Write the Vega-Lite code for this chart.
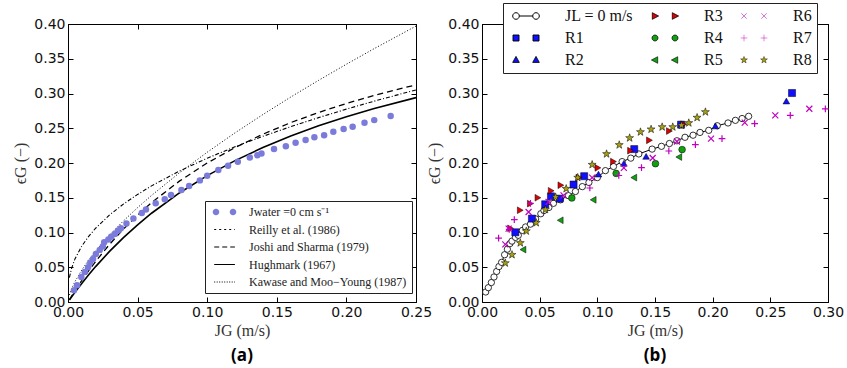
{
  "$schema": "https://vega.github.io/schema/vega-lite/v6.json",
  "padding": {"left": 12, "top": 2, "right": 5, "bottom": 5},
  "background": "white",
  "config": {
    "view": {"stroke": "black", "strokeWidth": 1},
    "axis": {
      "labelFont": "DejaVu Sans", "labelFontSize": 14, "labelColor": "#111",
      "titleFont": "Liberation Serif", "titleFontSize": 16, "titleFontWeight": "normal", "titleColor": "#333",
      "grid": false, "domainColor": "black", "tickColor": "black", "tickSize": -5, "labelPadding": 8,
      "labelFlush": false, "labelOverlap": false
    }
  },
  "resolve": {"scale": {"color": "independent", "fill": "independent", "stroke": "independent", "shape": "independent", "strokeWidth": "independent", "strokeDash": "independent"}},
  "datasets": {
    "leftPts": [
      {"x":0.0043,"y":0.0168},{"x":0.0065,"y":0.024},{"x":0.0096,"y":0.036},{"x":0.012,"y":0.043},{"x":0.0144,"y":0.050},
      {"x":0.016,"y":0.057},{"x":0.018,"y":0.062},{"x":0.020,"y":0.069},{"x":0.0228,"y":0.075},{"x":0.025,"y":0.080},
      {"x":0.026,"y":0.086},{"x":0.029,"y":0.090},{"x":0.031,"y":0.094},{"x":0.0336,"y":0.098},{"x":0.036,"y":0.103},
      {"x":0.038,"y":0.106},{"x":0.042,"y":0.113},{"x":0.047,"y":0.120},{"x":0.053,"y":0.128},{"x":0.056,"y":0.133},
      {"x":0.063,"y":0.142},{"x":0.0695,"y":0.148},{"x":0.074,"y":0.154},{"x":0.0815,"y":0.161},{"x":0.087,"y":0.167},
      {"x":0.0947,"y":0.175},{"x":0.100,"y":0.1815},{"x":0.108,"y":0.190},{"x":0.115,"y":0.196},{"x":0.122,"y":0.2017},
      {"x":0.1306,"y":0.208},{"x":0.136,"y":0.211},{"x":0.139,"y":0.2137},{"x":0.148,"y":0.220},{"x":0.1565,"y":0.224},
      {"x":0.1635,"y":0.229},{"x":0.1707,"y":0.233},{"x":0.177,"y":0.237},{"x":0.184,"y":0.240},{"x":0.1906,"y":0.245},
      {"x":0.198,"y":0.249},{"x":0.2045,"y":0.252},{"x":0.213,"y":0.258},{"x":0.220,"y":0.2617},{"x":0.2318,"y":0.2675}
    ],
    "curves": [
      {"m":"Reilly et al. (1986)","x":0.001,"y":0.0351},{"m":"Reilly et al. (1986)","x":0.0025,"y":0.0480},{"m":"Reilly et al. (1986)","x":0.005,"y":0.0620},{"m":"Reilly et al. (1986)","x":0.01,"y":0.0808},{"m":"Reilly et al. (1986)","x":0.015,"y":0.0949},{"m":"Reilly et al. (1986)","x":0.02,"y":0.1065},{"m":"Reilly et al. (1986)","x":0.03,"y":0.1255},{"m":"Reilly et al. (1986)","x":0.04,"y":0.1412},{"m":"Reilly et al. (1986)","x":0.05,"y":0.1548},{"m":"Reilly et al. (1986)","x":0.06,"y":0.1671},{"m":"Reilly et al. (1986)","x":0.08,"y":0.1884},{"m":"Reilly et al. (1986)","x":0.10,"y":0.2069},{"m":"Reilly et al. (1986)","x":0.12,"y":0.2234},{"m":"Reilly et al. (1986)","x":0.14,"y":0.2384},{"m":"Reilly et al. (1986)","x":0.16,"y":0.2523},{"m":"Reilly et al. (1986)","x":0.18,"y":0.2653},{"m":"Reilly et al. (1986)","x":0.20,"y":0.2775},{"m":"Reilly et al. (1986)","x":0.22,"y":0.2890},{"m":"Reilly et al. (1986)","x":0.25,"y":0.3052},
      {"m":"Joshi and Sharma (1979)","x":0.001,"y":0.0033},{"m":"Joshi and Sharma (1979)","x":0.0025,"y":0.0082},{"m":"Joshi and Sharma (1979)","x":0.005,"y":0.0161},{"m":"Joshi and Sharma (1979)","x":0.01,"y":0.0313},{"m":"Joshi and Sharma (1979)","x":0.015,"y":0.0455},{"m":"Joshi and Sharma (1979)","x":0.02,"y":0.0588},{"m":"Joshi and Sharma (1979)","x":0.03,"y":0.0833},{"m":"Joshi and Sharma (1979)","x":0.04,"y":0.1053},{"m":"Joshi and Sharma (1979)","x":0.05,"y":0.125},{"m":"Joshi and Sharma (1979)","x":0.06,"y":0.1429},{"m":"Joshi and Sharma (1979)","x":0.08,"y":0.1739},{"m":"Joshi and Sharma (1979)","x":0.10,"y":0.2},{"m":"Joshi and Sharma (1979)","x":0.12,"y":0.2222},{"m":"Joshi and Sharma (1979)","x":0.14,"y":0.2414},{"m":"Joshi and Sharma (1979)","x":0.16,"y":0.2581},{"m":"Joshi and Sharma (1979)","x":0.18,"y":0.2727},{"m":"Joshi and Sharma (1979)","x":0.20,"y":0.2857},{"m":"Joshi and Sharma (1979)","x":0.22,"y":0.2973},{"m":"Joshi and Sharma (1979)","x":0.25,"y":0.3125},
      {"m":"Hughmark (1967)","x":0.001,"y":0.0028},{"m":"Hughmark (1967)","x":0.0025,"y":0.0070},{"m":"Hughmark (1967)","x":0.005,"y":0.0139},{"m":"Hughmark (1967)","x":0.01,"y":0.0270},{"m":"Hughmark (1967)","x":0.015,"y":0.0395},{"m":"Hughmark (1967)","x":0.02,"y":0.0513},{"m":"Hughmark (1967)","x":0.03,"y":0.0732},{"m":"Hughmark (1967)","x":0.04,"y":0.0930},{"m":"Hughmark (1967)","x":0.05,"y":0.1111},{"m":"Hughmark (1967)","x":0.06,"y":0.1277},{"m":"Hughmark (1967)","x":0.08,"y":0.1569},{"m":"Hughmark (1967)","x":0.10,"y":0.1818},{"m":"Hughmark (1967)","x":0.12,"y":0.2034},{"m":"Hughmark (1967)","x":0.14,"y":0.2222},{"m":"Hughmark (1967)","x":0.16,"y":0.2388},{"m":"Hughmark (1967)","x":0.18,"y":0.2535},{"m":"Hughmark (1967)","x":0.20,"y":0.2667},{"m":"Hughmark (1967)","x":0.22,"y":0.2785},{"m":"Hughmark (1967)","x":0.25,"y":0.2941},
      {"m":"Kawase and Moo−Young (1987)","x":0.001,"y":0.0100},{"m":"Kawase and Moo−Young (1987)","x":0.0025,"y":0.0184},{"m":"Kawase and Moo−Young (1987)","x":0.005,"y":0.0293},{"m":"Kawase and Moo−Young (1987)","x":0.01,"y":0.0464},{"m":"Kawase and Moo−Young (1987)","x":0.015,"y":0.0608},{"m":"Kawase and Moo−Young (1987)","x":0.02,"y":0.0737},{"m":"Kawase and Moo−Young (1987)","x":0.03,"y":0.0966},{"m":"Kawase and Moo−Young (1987)","x":0.04,"y":0.1170},{"m":"Kawase and Moo−Young (1987)","x":0.05,"y":0.1358},{"m":"Kawase and Moo−Young (1987)","x":0.06,"y":0.1533},{"m":"Kawase and Moo−Young (1987)","x":0.08,"y":0.1858},{"m":"Kawase and Moo−Young (1987)","x":0.10,"y":0.2155},{"m":"Kawase and Moo−Young (1987)","x":0.12,"y":0.2434},{"m":"Kawase and Moo−Young (1987)","x":0.14,"y":0.2697},{"m":"Kawase and Moo−Young (1987)","x":0.16,"y":0.2949},{"m":"Kawase and Moo−Young (1987)","x":0.18,"y":0.3189},{"m":"Kawase and Moo−Young (1987)","x":0.20,"y":0.3421},{"m":"Kawase and Moo−Young (1987)","x":0.22,"y":0.3646},{"m":"Kawase and Moo−Young (1987)","x":0.25,"y":0.397}
    ],
    "right": [
      {"s":"JL = 0 m/s","x":0.0032,"y":0.0144},{"s":"JL = 0 m/s","x":0.0055,"y":0.0206},{"s":"JL = 0 m/s","x":0.0081,"y":0.028},{"s":"JL = 0 m/s","x":0.0104,"y":0.036},{"s":"JL = 0 m/s","x":0.0127,"y":0.044},{"s":"JL = 0 m/s","x":0.0147,"y":0.051},{"s":"JL = 0 m/s","x":0.017,"y":0.057},{"s":"JL = 0 m/s","x":0.0196,"y":0.068},{"s":"JL = 0 m/s","x":0.022,"y":0.076},{"s":"JL = 0 m/s","x":0.0242,"y":0.084},{"s":"JL = 0 m/s","x":0.026,"y":0.0876},{"s":"JL = 0 m/s","x":0.029,"y":0.093},{"s":"JL = 0 m/s","x":0.0315,"y":0.096},{"s":"JL = 0 m/s","x":0.035,"y":0.103},{"s":"JL = 0 m/s","x":0.0378,"y":0.108},{"s":"JL = 0 m/s","x":0.042,"y":0.112},{"s":"JL = 0 m/s","x":0.0465,"y":0.1196},{"s":"JL = 0 m/s","x":0.051,"y":0.127},{"s":"JL = 0 m/s","x":0.0537,"y":0.1316},{"s":"JL = 0 m/s","x":0.058,"y":0.136},{"s":"JL = 0 m/s","x":0.062,"y":0.142},{"s":"JL = 0 m/s","x":0.068,"y":0.147},{"s":"JL = 0 m/s","x":0.075,"y":0.153},{"s":"JL = 0 m/s","x":0.081,"y":0.159},{"s":"JL = 0 m/s","x":0.087,"y":0.166},{"s":"JL = 0 m/s","x":0.0927,"y":0.172},{"s":"JL = 0 m/s","x":0.100,"y":0.179},{"s":"JL = 0 m/s","x":0.107,"y":0.189},{"s":"JL = 0 m/s","x":0.114,"y":0.195},{"s":"JL = 0 m/s","x":0.1215,"y":0.202},{"s":"JL = 0 m/s","x":0.129,"y":0.207},{"s":"JL = 0 m/s","x":0.136,"y":0.213},{"s":"JL = 0 m/s","x":0.1475,"y":0.220},{"s":"JL = 0 m/s","x":0.1556,"y":0.224},{"s":"JL = 0 m/s","x":0.1625,"y":0.228},{"s":"JL = 0 m/s","x":0.169,"y":0.232},{"s":"JL = 0 m/s","x":0.176,"y":0.237},{"s":"JL = 0 m/s","x":0.183,"y":0.240},{"s":"JL = 0 m/s","x":0.189,"y":0.244},{"s":"JL = 0 m/s","x":0.1966,"y":0.247},{"s":"JL = 0 m/s","x":0.204,"y":0.2536},{"s":"JL = 0 m/s","x":0.2133,"y":0.2576},{"s":"JL = 0 m/s","x":0.2197,"y":0.2614},{"s":"JL = 0 m/s","x":0.2255,"y":0.264},{"s":"JL = 0 m/s","x":0.2312,"y":0.2672},
      {"s":"R1","x":0.0289,"y":0.1003},{"s":"R1","x":0.0433,"y":0.120},{"s":"R1","x":0.0548,"y":0.1406},{"s":"R1","x":0.0598,"y":0.152},{"s":"R1","x":0.0673,"y":0.1487},{"s":"R1","x":0.0794,"y":0.169},{"s":"R1","x":0.0886,"y":0.181},{"s":"R1","x":0.132,"y":0.220},{"s":"R1","x":0.1726,"y":0.2552},{"s":"R1","x":0.2688,"y":0.3007},
      {"s":"R2","x":0.101,"y":0.184},{"s":"R2","x":0.123,"y":0.1995},{"s":"R2","x":0.1423,"y":0.2096},{"s":"R2","x":0.2024,"y":0.2533},{"s":"R2","x":0.2639,"y":0.2892},
      {"s":"R3","x":0.0248,"y":0.106},{"s":"R3","x":0.0332,"y":0.132},{"s":"R3","x":0.0419,"y":0.1415},{"s":"R3","x":0.0485,"y":0.150},{"s":"R3","x":0.060,"y":0.160},{"s":"R3","x":0.0684,"y":0.168},{"s":"R3","x":0.084,"y":0.179},{"s":"R3","x":0.1005,"y":0.193},{"s":"R3","x":0.114,"y":0.202},{"s":"R3","x":0.1288,"y":0.2177},{"s":"R3","x":0.1452,"y":0.2327},{"s":"R3","x":0.1625,"y":0.246},{"s":"R3","x":0.1749,"y":0.2557},
      {"s":"R4","x":0.0779,"y":0.1497},{"s":"R4","x":0.1163,"y":0.185},{"s":"R4","x":0.1504,"y":0.199},{"s":"R4","x":0.1735,"y":0.2193},
      {"s":"R5","x":0.0355,"y":0.0754},{"s":"R5","x":0.0678,"y":0.1176},{"s":"R5","x":0.0964,"y":0.147},{"s":"R5","x":0.1316,"y":0.179},{"s":"R5","x":0.1706,"y":0.2086},
      {"s":"R6","x":0.0202,"y":0.083},{"s":"R6","x":0.0231,"y":0.1056},{"s":"R6","x":0.0404,"y":0.1295},{"s":"R6","x":0.0577,"y":0.144},{"s":"R6","x":0.0707,"y":0.1535},{"s":"R6","x":0.0955,"y":0.179},{"s":"R6","x":0.123,"y":0.193},{"s":"R6","x":0.148,"y":0.2072},{"s":"R6","x":0.169,"y":0.231},{"s":"R6","x":0.1986,"y":0.235},{"s":"R6","x":0.2278,"y":0.258},{"s":"R6","x":0.2543,"y":0.2686},{"s":"R6","x":0.2838,"y":0.278},
      {"s":"R7","x":0.0144,"y":0.092},{"s":"R7","x":0.0236,"y":0.1045},{"s":"R7","x":0.028,"y":0.1185},{"s":"R7","x":0.042,"y":0.142},{"s":"R7","x":0.0935,"y":0.164},{"s":"R7","x":0.1186,"y":0.182},{"s":"R7","x":0.1383,"y":0.1934},{"s":"R7","x":0.162,"y":0.2173},{"s":"R7","x":0.185,"y":0.2265},{"s":"R7","x":0.2081,"y":0.235},{"s":"R7","x":0.2364,"y":0.2567},{"s":"R7","x":0.2673,"y":0.2686},{"s":"R7","x":0.2977,"y":0.278},
      {"s":"R8","x":0.0202,"y":0.056},{"s":"R8","x":0.026,"y":0.068},{"s":"R8","x":0.0332,"y":0.085},{"s":"R8","x":0.0384,"y":0.102},{"s":"R8","x":0.047,"y":0.114},{"s":"R8","x":0.055,"y":0.133},{"s":"R8","x":0.0638,"y":0.151},{"s":"R8","x":0.073,"y":0.163},{"s":"R8","x":0.083,"y":0.179},{"s":"R8","x":0.0955,"y":0.1976},{"s":"R8","x":0.108,"y":0.213},{"s":"R8","x":0.119,"y":0.226},{"s":"R8","x":0.128,"y":0.236},{"s":"R8","x":0.1374,"y":0.2446},{"s":"R8","x":0.1466,"y":0.2485},{"s":"R8","x":0.1562,"y":0.2518},{"s":"R8","x":0.1654,"y":0.2518},{"s":"R8","x":0.1729,"y":0.2542},{"s":"R8","x":0.1793,"y":0.2576},{"s":"R8","x":0.1865,"y":0.2653},{"s":"R8","x":0.1937,"y":0.2734}
    ]
  },
  "hconcat": [
    {
      "width": 348, "height": 278,
      "title": {"text": "(a)", "orient": "bottom", "frame": "group", "anchor": "middle", "font": "Open Sans", "fontSize": 17, "fontWeight": "bold", "color": "black", "offset": 10},
      "resolve": {"axis": {"x": "independent", "y": "independent"}},
      "layer": [
        {
          "data": {"name": "curves"},
          "transform": [{"filter": {"field": "m", "equal": "Reilly et al. (1986)"}}],
          "mark": {"type": "line", "stroke": "black", "strokeWidth": 1.1, "strokeDash": [4,2,1,2]},
          "encoding": {
            "x": {"field": "x", "type": "quantitative", "scale": {"domain": [0, 0.25], "nice": false},
                  "axis": {"orient": "bottom", "title": "JG (m/s)", "values": [0,0.05,0.1,0.15,0.2,0.25], "format": ".2f", "titlePadding": 3}},
            "y": {"field": "y", "type": "quantitative", "scale": {"domain": [0, 0.4], "nice": false},
                  "axis": {"orient": "left", "title": "ϵG (−)", "values": [0,0.05,0.1,0.15,0.2,0.25,0.3,0.35,0.4], "format": ".2f", "titlePadding": 5}}
          }
        },
        {
          "data": {"name": "curves"},
          "transform": [{"filter": {"field": "m", "equal": "Joshi and Sharma (1979)"}}],
          "mark": {"type": "line", "stroke": "black", "strokeWidth": 1.3, "strokeDash": [6,4]},
          "encoding": {"x": {"field": "x", "type": "quantitative", "axis": null}, "y": {"field": "y", "type": "quantitative", "axis": null}}
        },
        {
          "data": {"name": "curves"},
          "transform": [{"filter": {"field": "m", "equal": "Hughmark (1967)"}}],
          "mark": {"type": "line", "stroke": "black", "strokeWidth": 1.6},
          "encoding": {"x": {"field": "x", "type": "quantitative", "axis": null}, "y": {"field": "y", "type": "quantitative", "axis": null}}
        },
        {
          "data": {"name": "curves"},
          "transform": [{"filter": {"field": "m", "equal": "Kawase and Moo−Young (1987)"}}],
          "mark": {"type": "line", "stroke": "black", "strokeWidth": 1, "strokeDash": [1,2]},
          "encoding": {"x": {"field": "x", "type": "quantitative", "axis": null}, "y": {"field": "y", "type": "quantitative", "axis": null}}
        },
        {
          "data": {"name": "leftPts"},
          "mark": {"type": "circle", "size": 42, "opacity": 1, "fill": "#7b7bdc"},
          "encoding": {
            "x": {"field": "x", "type": "quantitative", "axis": {"orient": "top", "labels": false, "title": null, "values": [0,0.05,0.1,0.15,0.2,0.25]}},
            "y": {"field": "y", "type": "quantitative", "axis": {"orient": "right", "labels": false, "title": null, "values": [0,0.05,0.1,0.15,0.2,0.25,0.3,0.35,0.4]}}
          }
        },
        {
          "data": {"name": "curves"},
          "transform": [{"filter": "datum.x < 0"}],
          "mark": {"type": "point", "filled": true, "opacity": 1},
          "encoding": {
            "x": {"field": "x", "type": "quantitative", "axis": null},
            "y": {"field": "y", "type": "quantitative", "axis": null},
            "color": {"field": "m", "type": "nominal",
              "scale": {"domain": ["Jwater =0 cm s⁻¹","Reilly et al. (1986)","Joshi and Sharma (1979)","Hughmark (1967)","Kawase and Moo−Young (1987)"],
                        "range": ["#7b7bdc","transparent","transparent","transparent","transparent"]},
              "legend": {
                "title": null, "orient": "none", "legendX": 137, "legendY": 177,
                "strokeColor": "#222", "fillColor": "white", "padding": 5, "rowPadding": 5.5,
                "labelFont": "Liberation Serif", "labelFontSize": 12, "labelColor": "#222",
                "symbolSize": 36, "labelOffset": 27, "symbolOffset": 0, "symbolOpacity": 1
              }},
            "stroke": {"field": "m", "type": "nominal",
              "scale": {"domain": ["Jwater =0 cm s⁻¹","Reilly et al. (1986)","Joshi and Sharma (1979)","Hughmark (1967)","Kawase and Moo−Young (1987)"],
                        "range": ["transparent","black","black","black","black"]}},
            "shape": {"field": "m", "type": "nominal",
              "scale": {"domain": ["Jwater =0 cm s⁻¹","Reilly et al. (1986)","Joshi and Sharma (1979)","Hughmark (1967)","Kawase and Moo−Young (1987)"],
                        "range": ["M-1.1,0A1.1,1.1 0 1,0 1.1,0A1.1,1.1 0 1,0 -1.1,0ZM4.57,0A1.1,1.1 0 1,0 6.77,0A1.1,1.1 0 1,0 4.57,0Z","M-0.6,0H6.3","M-0.6,0H6.3","M-0.6,0H6.3","M-0.6,0H6.3"]}},
            "strokeDash": {"field": "m", "type": "nominal",
              "scale": {"domain": ["Jwater =0 cm s⁻¹","Reilly et al. (1986)","Joshi and Sharma (1979)","Hughmark (1967)","Kawase and Moo−Young (1987)"],
                        "range": [[1,0],[2,3],[5,3],[1,0],[1,1.5]]}},
            "strokeWidth": {"field": "m", "type": "nominal",
              "scale": {"domain": ["Jwater =0 cm s⁻¹","Reilly et al. (1986)","Joshi and Sharma (1979)","Hughmark (1967)","Kawase and Moo−Young (1987)"],
                        "range": [1, 1.2, 1.3, 1.8, 1.1]}}
          }
        }
      ]
    },
    {
      "width": 346, "height": 278,
      "title": {"text": "(b)", "orient": "bottom", "frame": "group", "anchor": "middle", "font": "Open Sans", "fontSize": 17, "fontWeight": "bold", "color": "black", "offset": 10},
      "resolve": {"axis": {"x": "independent", "y": "independent"}},
      "layer": [
        {
          "data": {"name": "right"},
          "transform": [{"filter": {"field": "s", "equal": "JL = 0 m/s"}}],
          "mark": {"type": "line", "stroke": "black", "strokeWidth": 1},
          "encoding": {
            "x": {"field": "x", "type": "quantitative", "scale": {"domain": [0, 0.3], "nice": false},
                  "axis": {"orient": "bottom", "title": "JG (m/s)", "values": [0,0.05,0.1,0.15,0.2,0.25,0.3], "format": ".2f", "titlePadding": 3}},
            "y": {"field": "y", "type": "quantitative", "scale": {"domain": [0, 0.4], "nice": false},
                  "axis": {"orient": "left", "title": "ϵG (−)", "values": [0,0.05,0.1,0.15,0.2,0.25,0.3,0.35,0.4], "format": ".2f", "titlePadding": 5}}
          }
        },
        {
          "data": {"name": "right"},
          "transform": [{"filter": {"field": "s", "equal": "JL = 0 m/s"}}],
          "mark": {"type": "point", "shape": "circle", "filled": true, "fill": "white", "stroke": "black", "strokeWidth": 0.8, "size": 40, "opacity": 1},
          "encoding": {"x": {"field": "x", "type": "quantitative", "axis": null}, "y": {"field": "y", "type": "quantitative", "axis": null}}
        },
        {
          "data": {"name": "right"},
          "transform": [{"filter": {"field": "s", "equal": "R1"}}],
          "mark": {"type": "point", "shape": "square", "filled": true, "fill": "#1010ff", "stroke": "black", "strokeWidth": 0.5, "size": 50, "opacity": 1},
          "encoding": {"x": {"field": "x", "type": "quantitative", "axis": null}, "y": {"field": "y", "type": "quantitative", "axis": null}}
        },
        {
          "data": {"name": "right"},
          "transform": [{"filter": {"field": "s", "equal": "R2"}}],
          "mark": {"type": "point", "shape": "triangle-up", "filled": true, "fill": "#1010ff", "stroke": "black", "strokeWidth": 0.5, "size": 45, "opacity": 1},
          "encoding": {"x": {"field": "x", "type": "quantitative", "axis": null}, "y": {"field": "y", "type": "quantitative", "axis": null}}
        },
        {
          "data": {"name": "right"},
          "transform": [{"filter": {"field": "s", "equal": "R3"}}],
          "mark": {"type": "point", "shape": "triangle-right", "filled": true, "fill": "#e00000", "stroke": "black", "strokeWidth": 0.5, "size": 45, "opacity": 1},
          "encoding": {"x": {"field": "x", "type": "quantitative", "axis": null}, "y": {"field": "y", "type": "quantitative", "axis": null}}
        },
        {
          "data": {"name": "right"},
          "transform": [{"filter": {"field": "s", "equal": "R4"}}],
          "mark": {"type": "point", "shape": "circle", "filled": true, "fill": "#10a010", "stroke": "black", "strokeWidth": 0.5, "size": 45, "opacity": 1},
          "encoding": {"x": {"field": "x", "type": "quantitative", "axis": null}, "y": {"field": "y", "type": "quantitative", "axis": null}}
        },
        {
          "data": {"name": "right"},
          "transform": [{"filter": {"field": "s", "equal": "R5"}}],
          "mark": {"type": "point", "shape": "triangle-left", "filled": true, "fill": "#10a010", "stroke": "black", "strokeWidth": 0.5, "size": 45, "opacity": 1},
          "encoding": {"x": {"field": "x", "type": "quantitative", "axis": null}, "y": {"field": "y", "type": "quantitative", "axis": null}}
        },
        {
          "data": {"name": "right"},
          "transform": [{"filter": {"field": "s", "equal": "R6"}}],
          "mark": {"type": "point", "shape": "M-1,-1L1,1M-1,1L1,-1", "filled": false, "stroke": "#bf00bf", "strokeWidth": 1.2, "size": 36, "opacity": 1},
          "encoding": {"x": {"field": "x", "type": "quantitative", "axis": null}, "y": {"field": "y", "type": "quantitative", "axis": null}}
        },
        {
          "data": {"name": "right"},
          "transform": [{"filter": {"field": "s", "equal": "R7"}}],
          "mark": {"type": "point", "shape": "M-1,0H1M0,-1V1", "filled": false, "stroke": "#bf00bf", "strokeWidth": 1.2, "size": 45, "opacity": 1},
          "encoding": {"x": {"field": "x", "type": "quantitative", "axis": null}, "y": {"field": "y", "type": "quantitative", "axis": null}}
        },
        {
          "data": {"name": "right"},
          "transform": [{"filter": {"field": "s", "equal": "R8"}}],
          "mark": {"type": "point", "shape": "M0,-1L0.235,-0.324L0.951,-0.309L0.38,0.124L0.588,0.809L0,0.4L-0.588,0.809L-0.38,0.124L-0.951,-0.309L-0.235,-0.324Z", "filled": true, "fill": "#a8a010", "stroke": "black", "strokeWidth": 0.5, "size": 70, "opacity": 1},
          "encoding": {
            "x": {"field": "x", "type": "quantitative", "axis": {"orient": "top", "labels": false, "title": null, "values": [0,0.05,0.1,0.15,0.2,0.25,0.3]}},
            "y": {"field": "y", "type": "quantitative", "axis": {"orient": "right", "labels": false, "title": null, "values": [0,0.05,0.1,0.15,0.2,0.25,0.3,0.35,0.4]}}
          }
        },
        {
          "data": {"name": "right"},
          "transform": [{"filter": "datum.x < 0"}],
          "mark": {"type": "point", "filled": true, "opacity": 1},
          "encoding": {
            "x": {"field": "x", "type": "quantitative", "axis": null},
            "y": {"field": "y", "type": "quantitative", "axis": null},
            "color": {"field": "s", "type": "nominal",
              "scale": {"domain": ["JL = 0 m/s","R1","R2","R3","R4","R5","R6","R7","R8"],
                        "range": ["white","#1010ff","#1010ff","#e00000","#10a010","#10a010","transparent","transparent","#a8a010"]},
              "legend": {
                "title": null, "orient": "none", "legendX": 21, "legendY": -21, "columns": 3, "columnPadding": 13,
                "strokeColor": "#222", "fillColor": "white", "padding": 5, "rowPadding": 6,
                "labelFont": "Liberation Serif", "labelFontSize": 16, "labelColor": "#111",
                "symbolSize": 36, "labelOffset": 41, "symbolOffset": 0, "symbolOpacity": 1
              }},
            "stroke": {"field": "s", "type": "nominal",
              "scale": {"domain": ["JL = 0 m/s","R1","R2","R3","R4","R5","R6","R7","R8"],
                        "range": ["black","black","black","black","black","black","#bf00bf","#bf00bf","black"]}},
            "strokeWidth": {"field": "s", "type": "nominal",
              "scale": {"domain": ["JL = 0 m/s","R1","R2","R3","R4","R5","R6","R7","R8"],
                        "range": [1, 0.4, 0.4, 0.4, 0.4, 0.4, 1.2, 1.2, 0.4]}},
            "shape": {"field": "s", "type": "nominal",
              "scale": {"domain": ["JL = 0 m/s","R1","R2","R3","R4","R5","R6","R7","R8"],
                        "range": [
                          "M-1.1,0A1.1,1.1 0 1,0 1.1,0A1.1,1.1 0 1,0 -1.1,0ZM1.1,0H5.57M5.57,0A1.1,1.1 0 1,0 7.77,0A1.1,1.1 0 1,0 5.57,0Z",
                          "M-1,-1H1V1H-1ZM5.67,-1H7.67V1H5.67Z",
                          "M0,-1.2L1.1,0.8H-1.1ZM6.67,-1.2L7.77,0.8H5.57Z",
                          "M-0.9,-1.1L1.2,0L-0.9,1.1ZM5.77,-1.1L7.87,0L5.77,1.1Z",
                          "M-1,0A1,1 0 1,0 1,0A1,1 0 1,0 -1,0ZM5.67,0A1,1 0 1,0 7.67,0A1,1 0 1,0 5.67,0Z",
                          "M0.9,-1.1L-1.2,0L0.9,1.1ZM7.57,-1.1L5.47,0L7.57,1.1Z",
                          "M-0.9,-0.9L0.9,0.9M-0.9,0.9L0.9,-0.9M5.77,-0.9L7.57,0.9M5.77,0.9L7.57,-0.9",
                          "M-1.1,0H1.1M0,-1.1V1.1M5.57,0H7.77M6.67,-1.1V1.1",
                          "M0,-1.2L0.28,-0.39L1.14,-0.37L0.46,0.15L0.71,0.97L0,0.48L-0.71,0.97L-0.46,0.15L-1.14,-0.37L-0.28,-0.39ZM6.67,-1.2L6.95,-0.39L7.81,-0.37L7.13,0.15L7.38,0.97L6.67,0.48L5.96,0.97L6.21,0.15L5.53,-0.37L6.39,-0.39Z"
                        ]}}
          }
        }
      ]
    }
  ],
  "spacing": -7
}
